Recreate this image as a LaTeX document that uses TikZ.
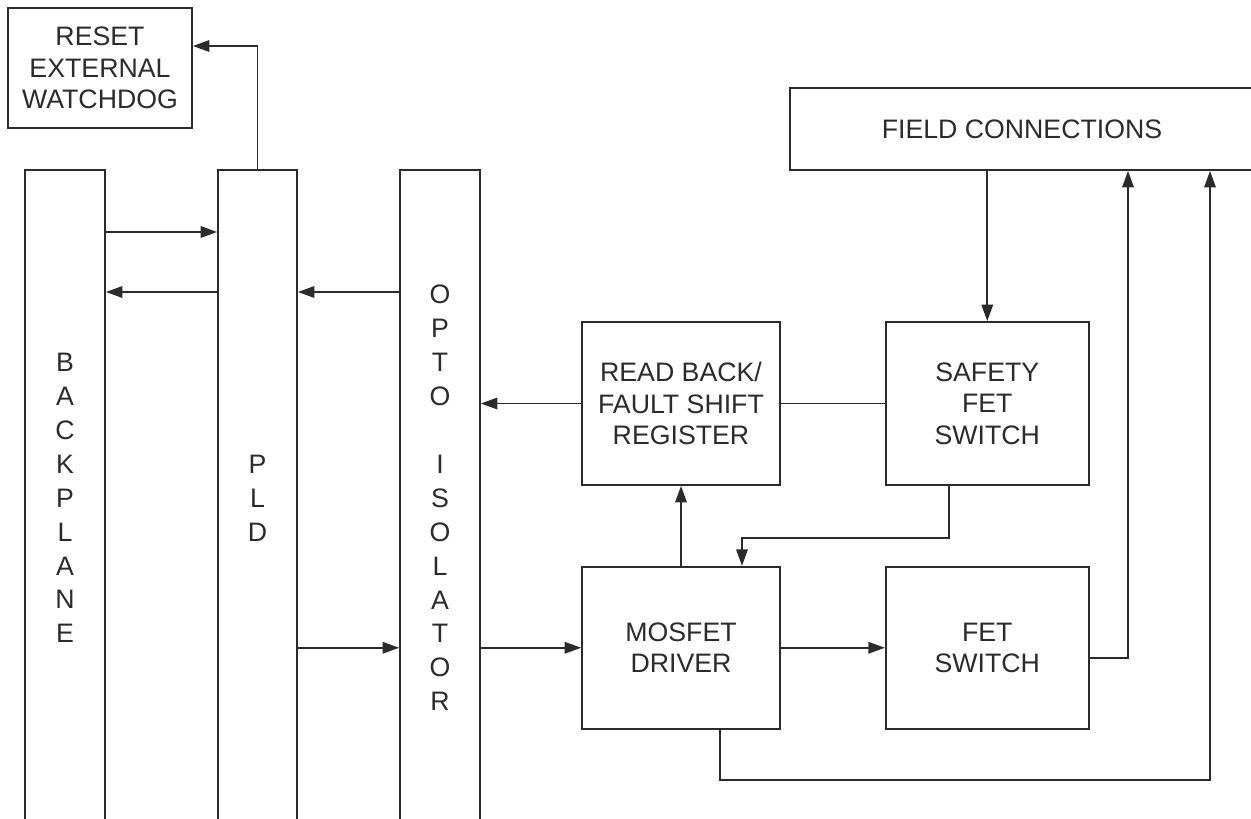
\documentclass[tikz,border=0pt]{standalone}
\usepackage{fontspec}
\setmainfont{Liberation Sans}
\usepackage{xcolor}
\usetikzlibrary{arrows.meta,positioning}
\definecolor{ink}{HTML}{2B2B2B}

\begin{document}
\begin{tikzpicture}[
  blockbox/.style={draw=ink, line width=1pt, inner sep=0pt, align=center, text=ink,
    font=\fontsize{15.2}{17.9}\selectfont},
  busbox/.style={blockbox, minimum width=1.6cm, minimum height=13.12cm,
    font=\fontsize{15.2}{19.3}\selectfont},
  arr/.style={-{Triangle[length=3.3mm,width=2.3mm]}, draw=ink, line width=1pt},
  wire/.style={draw=ink, line width=1pt},
  node distance=1.6cm and 2.08cm,
]
\useasboundingbox (0,0) rectangle (25.02,-16.36);
\clip (0,0) rectangle (25.02,-16.36);

% ===== Left side: bus columns =====
\node[blockbox, minimum width=3.68cm, minimum height=2.4cm] (reset) at (2.0,-1.36) {RESET\\EXTERNAL\\WATCHDOG};
\node[busbox] (backplane) at (1.3,-9.96) {B\\A\\C\\K\\P\\L\\A\\N\\E};
\node[busbox, minimum width=1.58cm] (pld) at (5.15,-9.96) {P\\L\\D};
\node[busbox] (opto) at (8.8,-9.96) {O\\P\\T\\O\\\mbox{}\\I\\S\\O\\L\\A\\T\\O\\R};

% ===== Right side: field blocks =====
\node[blockbox, minimum width=9.28cm, minimum height=1.64cm] (field) at (20.44,-2.58) {FIELD CONNECTIONS};
\node[blockbox, minimum width=3.96cm, minimum height=3.26cm] (readback) at (13.62,-8.07) {READ BACK/\\FAULT SHIFT\\REGISTER};
\node[blockbox, minimum width=4.06cm, minimum height=3.26cm, right=of readback] (safety) {SAFETY\\FET\\SWITCH};
\node[blockbox, minimum width=3.96cm, minimum height=3.24cm, below=of readback] (mosfet) {MOSFET\\DRIVER};
\node[blockbox, minimum width=4.06cm, minimum height=3.24cm, right=of mosfet] (fetsw) {FET\\SWITCH};

% ===== Connections =====
\draw[arr] (pld.north) |- ([yshift=0.44cm]reset.east);
\draw[arr] (backplane.east |- 0,-4.64) -- (pld.west |- 0,-4.64);
\draw[arr] (pld.west |- 0,-5.84) -- (backplane.east |- 0,-5.84);
\draw[arr] (opto.west |- 0,-5.84) -- (pld.east |- 0,-5.84);
\draw[arr] (pld.east |- mosfet.west) -- (opto.west |- mosfet.west);
\draw[arr] (opto.east |- mosfet.west) -- (mosfet.west);
\draw[arr] (readback.west) -- (opto.east |- readback.west);
\draw[wire] (safety.west) -- (readback.east);
\draw[arr] (safety.north |- field.south) -- (safety.north);
\draw[arr] ([xshift=-0.77cm]safety.south) -- ++(0,-1.04) -| ([xshift=1.22cm]mosfet.north);
\draw[arr] (mosfet.north) -- (readback.south);
\draw[arr] (mosfet.east) -- (fetsw.west);
\draw[arr] ([yshift=-0.2cm]fetsw.east) -| ([xshift=2.12cm]field.south);
\draw[arr] ([xshift=0.78cm]mosfet.south) -- ++(0,-1.0) -| ([xshift=3.76cm]field.south);

\end{tikzpicture}
\end{document}
